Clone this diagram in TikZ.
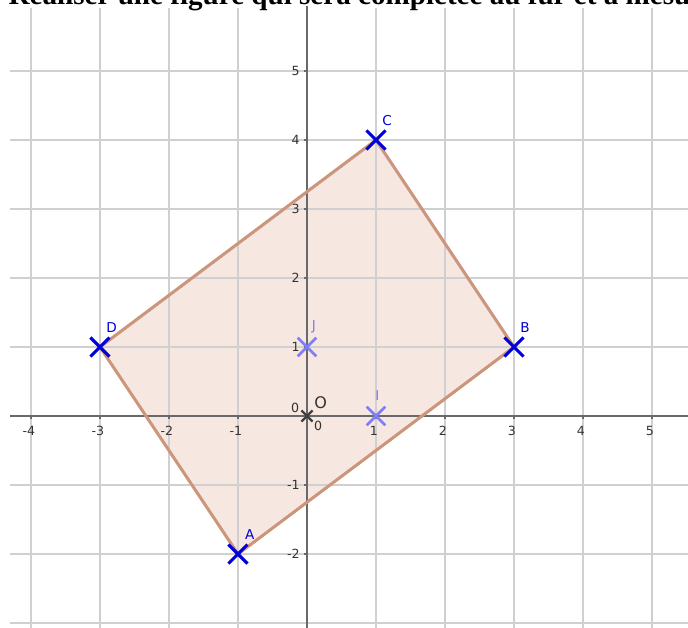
\documentclass[tikz,border=0pt]{standalone}
\usepackage{fontspec}
\setmainfont{Liberation Serif}
\newfontfamily\labelfont{DejaVu Sans}
\usetikzlibrary{shapes.misc}
\definecolor{gridgray}{RGB}{208,208,208}
\definecolor{axisgray}{RGB}{105,105,105}
\definecolor{ptblue}{RGB}{0,0,215}
\definecolor{ptlight}{RGB}{125,125,250}
\definecolor{polyedge}{RGB}{204,150,124}
\definecolor{polyfill}{RGB}{246,231,225}

\begin{document}
\begin{tikzpicture}[
    gridline/.style ={draw=gridgray, line width=0.55pt},
    axisline/.style ={draw=axisgray, line width=1pt},
    ticklab/.style  ={font=\labelfont\fontsize{5.2}{6}\selectfont, text=black!80, inner sep=0pt},
    ptcross/.style  ={cross out, draw=ptblue, line width=1.3pt, minimum size=2.3mm, inner sep=0pt},
    ptfaint/.style  ={ptcross, draw=ptlight, line width=1.1pt},
    ptname/.style   ={font=\labelfont\fontsize{5.6}{6}\selectfont, text=ptblue, inner sep=0pt},
    ptnamef/.style  ={ptname, text=ptlight},
    polyside/.style ={draw=polyedge, line width=1.25pt, line join=round}
  ]
    \useasboundingbox (-4.449,-3.072) rectangle (5.522,6.029);
    \clip (-4.449,-3.072) rectangle (5.522,6.029);

    % --- title line, cut at the top ---
    \node[anchor=base west, inner sep=0pt, font=\fontsize{12}{14}\selectfont\bfseries] (title)
      at (-4.33, 5.965) {Réaliser une figure qui sera complétée au fur et à mesure};

    % --- vertices ---
    \coordinate (a) at (-1,-2);
    \coordinate (b) at (3,1);
    \coordinate (c) at (1,4);
    \coordinate (d) at (-3,1);

    % filled quadrilateral, under the grid
    \fill[polyfill] (a) -- (b) -- (c) -- (d) -- cycle;

    % --- grid ---
    \foreach \x in {-4,...,5}
      \draw[gridline] (\x,-3.072) -- (\x,5.91);
    \foreach \y in {-3,...,5}
      \draw[gridline] (-4.30,\y) -- (5.522,\y);

    % --- axes ---
    \draw[axisline] (-4.30,0) -- (5.522,0);
    \draw[axisline] (0,-3.072) -- (0,5.94);
    \foreach \x in {-4,-3,-2,-1,1,2,3,4,5} {
      \draw[axisline, line width=0.8pt] (\x,-0.045) -- (\x,0.02);
      \node[ticklab] (xl\x) at (\x-0.03,-0.22) {\x};
    }
    \foreach \y in {-2,-1,1,2,3,4,5} {
      \draw[axisline, line width=0.8pt] (-0.045,\y) -- (0.02,\y);
      \node[ticklab, anchor=east] (yl\y) at (-0.1,\y) {\y};
    }
    \node[ticklab] (xl0) at (-0.17,0.12) {0};
    \node[ticklab] (yl0) at (0.16,-0.14) {0};

    % --- quadrilateral sides ---
    \draw[polyside] (a) -- (b) -- (c) -- (d) -- cycle;

    % --- points ---
    \node[ptcross, draw=black!75, line width=0.9pt, minimum size=1.3mm] (O) at (0,0) {};
    \node[ptname, text=black!80, font=\labelfont\fontsize{6.6}{7}\selectfont] (labO) at (0.2,0.2) {O};
    \node[ptfaint] (I) at (1,0) {};
    \node[ptnamef] (labI) at (1.02,0.29) {I};
    \node[ptfaint] (J) at (0,1) {};
    \node[ptnamef] (labJ) at (0.1,1.29) {J};

    \node[ptcross] (A) at (a) {};
    \node[ptname] (labA) at (-0.83,-1.72) {A};
    \node[ptcross] (B) at (b) {};
    \node[ptname] (labB) at (3.16,1.28) {B};
    \node[ptcross] (C) at (c) {};
    \node[ptname] (labC) at (1.16,4.28) {C};
    \node[ptcross] (D) at (d) {};
    \node[ptname] (labD) at (-2.83,1.28) {D};
  \end{tikzpicture}
\end{document}
